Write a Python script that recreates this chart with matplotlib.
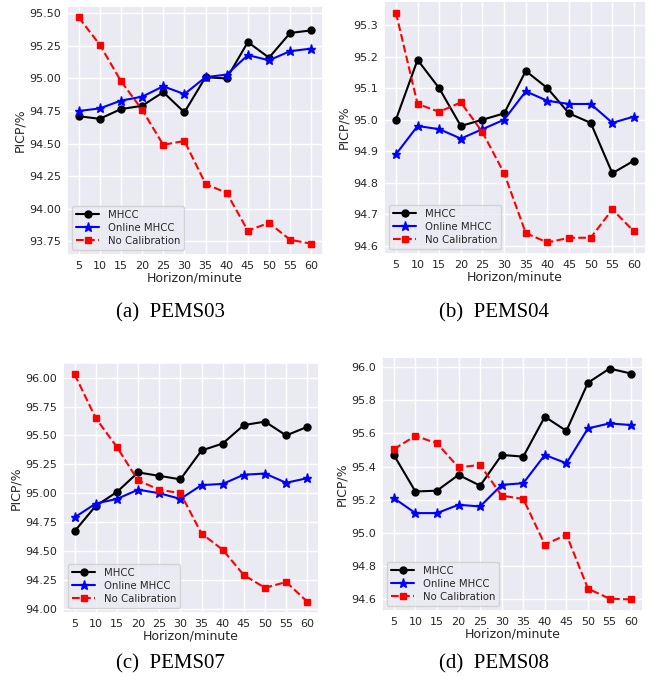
import matplotlib
matplotlib.use('Agg')
import matplotlib.pyplot as plt
import seaborn as sns
from matplotlib.ticker import MultipleLocator, FormatStrFormatter

horizons = [5, 10, 15, 20, 25, 30, 35, 40, 45, 50, 55, 60]

# PEMS03
mhcc_03 = [94.71, 94.69, 94.765, 94.79, 94.895, 94.74, 95.01, 95.00, 95.28, 95.16, 95.35, 95.37]
online_03 = [94.75, 94.77, 94.83, 94.86, 94.94, 94.88, 95.01, 95.03, 95.18, 95.14, 95.21, 95.23]
nocal_03 = [95.47, 95.26, 94.98, 94.76, 94.49, 94.52, 94.19, 94.12, 93.83, 93.89, 93.76, 93.73]

# PEMS04
mhcc_04 = [95.00, 95.19, 95.10, 94.98, 95.00, 95.02, 95.155, 95.10, 95.02, 94.99, 94.83, 94.87]
online_04 = [94.89, 94.98, 94.97, 94.94, 94.97, 95.00, 95.09, 95.06, 95.05, 95.05, 94.99, 95.01]
nocal_04 = [95.34, 95.05, 95.025, 95.055, 94.96, 94.83, 94.64, 94.61, 94.625, 94.625, 94.715, 94.645]

# PEMS07
mhcc_07 = [94.67, 94.89, 95.01, 95.18, 95.15, 95.12, 95.37, 95.43, 95.59, 95.62, 95.50, 95.575]
online_07 = [94.79, 94.91, 94.95, 95.03, 95.00, 94.95, 95.07, 95.08, 95.16, 95.17, 95.09, 95.13]
nocal_07 = [96.03, 95.65, 95.40, 95.11, 95.03, 95.00, 94.65, 94.51, 94.29, 94.18, 94.23, 94.06]

# PEMS08
mhcc_08 = [95.47, 95.25, 95.255, 95.35, 95.285, 95.47, 95.46, 95.70, 95.615, 95.905, 95.99, 95.96]
online_08 = [95.21, 95.12, 95.12, 95.17, 95.16, 95.29, 95.30, 95.47, 95.42, 95.63, 95.66, 95.65]
nocal_08 = [95.505, 95.585, 95.54, 95.395, 95.41, 95.225, 95.205, 94.93, 94.99, 94.665, 94.605, 94.60]

captions = ['(a)  PEMS03', '(b)  PEMS04', '(c)  PEMS07', '(d)  PEMS08']

sns.set_theme(style='darkgrid')
plt.rcParams['font.family'] = ['DejaVu Sans']
plt.rcParams['xtick.labelsize'] = 8
plt.rcParams['ytick.labelsize'] = 8
plt.rcParams['axes.labelsize'] = 9
plt.rcParams['legend.fontsize'] = 7.3

fig = plt.figure(figsize=(6.58, 6.87), dpi=100)

# axes boxes in figure fractions: left, bottom, width, height
boxes = [
    [0.1018, 0.6288, 0.389, 0.3624],
    [0.5836, 0.6303, 0.398, 0.368],
    [0.0957, 0.1077, 0.389, 0.364],
    [0.5805, 0.1106, 0.3967, 0.3697],
]
series = [
    (mhcc_03, online_03, nocal_03, 0.25, '%.2f'),
    (mhcc_04, online_04, nocal_04, 0.1, '%.1f'),
    (mhcc_07, online_07, nocal_07, 0.25, '%.2f'),
    (mhcc_08, online_08, nocal_08, 0.2, '%.1f'),
]
caption_y = [313, 313, 664, 664]
caption_x = [170, 494, 170, 494]

for i in range(4):
    mhcc, online, nocal, step, fmt = series[i]
    ax = fig.add_axes(boxes[i])
    ax.plot(horizons, mhcc, color='black', marker='o', markersize=5, linewidth=1.5, label='MHCC')
    ax.plot(horizons, online, color='blue', marker='*', markersize=6.5, linewidth=1.5, label='Online MHCC')
    ax.plot(horizons, nocal, color='red', marker='s', markersize=5, linewidth=1.5,
            linestyle='--', label='No Calibration')
    ax.set_xticks(horizons)
    ax.yaxis.set_major_locator(MultipleLocator(step))
    ax.yaxis.set_major_formatter(FormatStrFormatter(fmt))
    ax.tick_params(axis='both', length=0, pad=4)
    ax.set_xlabel('Horizon/minute', labelpad=1)
    ax.set_ylabel('PICP/%', labelpad=2)
    ax.legend(loc='lower left', handlelength=2.3, borderpad=0.4, labelspacing=0.3)
    fig.text(caption_x[i] / 658, 1 - caption_y[i] / 687, captions[i], ha='center', va='center',
             family=['Liberation Serif', 'DejaVu Serif'], fontsize=15, color='black')

plt.savefig('out.png', dpi=100)
